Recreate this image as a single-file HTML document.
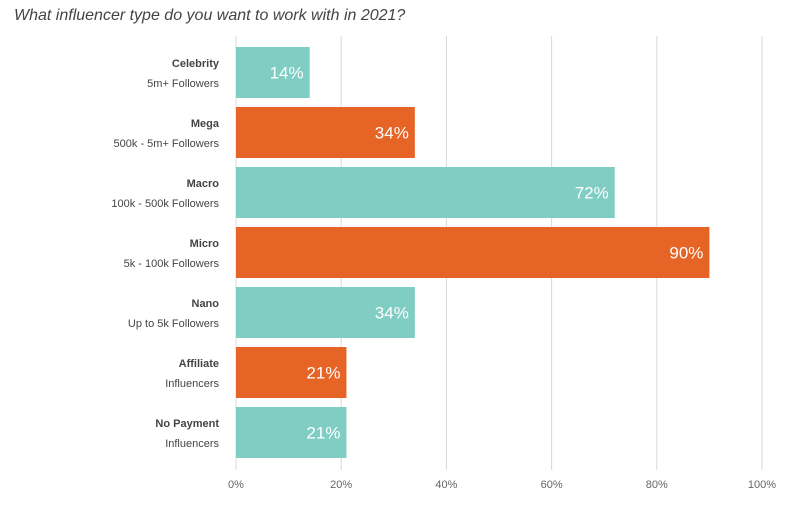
<!DOCTYPE html>
<html><head><meta charset="utf-8"><style>
body{margin:0;background:#fff;width:800px;height:501px;overflow:hidden;font-family:"Liberation Sans",sans-serif}
</style></head><body>
<svg id="chart" width="800" height="501" xmlns="http://www.w3.org/2000/svg">
<text x="14" y="20" font-size="16" font-style="italic" fill="#444">What influencer type do you want to work with in 2021?</text>
<g id="grid"></g><g id="bars"></g><g id="labels"></g><g id="ticks"></g>
</svg>
<script>
const categories=["Celebrity","Mega","Macro","Micro","Nano","Affiliate","No Payment"];
const subLabels=["5m+ Followers","500k - 5m+ Followers","100k - 500k Followers","5k - 100k Followers","Up to 5k Followers","Influencers","Influencers"];
const values=[14,34,72,90,34,21,21];
const tickValues=[0,20,40,60,80,100];
const tickLabels=["0%","20%","40%","60%","80%","100%"];
const NS="http://www.w3.org/2000/svg";
const x0=236,x1=762,yTop=47,step=60,bh=51;
const xs=v=>x0+(x1-x0)*v/100;
const ys=i=>yTop+i*step;
function mk(tag,attrs,parent,txt){const e=document.createElementNS(NS,tag);for(const k in attrs)e.setAttribute(k,attrs[k]);if(txt!==undefined)e.textContent=txt;document.getElementById(parent).appendChild(e);return e;}
tickValues.forEach((t,i)=>{
 const l=mk('line',{x1:xs(t),x2:xs(t),y1:36,y2:470,stroke:'#d8d8d8','stroke-width':1},'grid');
 
 
 const tx=mk('text',{x:xs(t),y:488,'text-anchor':'middle','font-size':11,fill:'#666'},'ticks',tickLabels[i]);
 
 
});
values.forEach((v,i)=>{
 const col=i%2===0?'#7fcdc3':'#e66425';
 const r=mk('rect',{x:x0,y:ys(i),width:xs(v)-x0,height:bh,fill:col},'bars');
 
 
 const vt=mk('text',{x:xs(v)-6,y:ys(i)+bh/2+6,'text-anchor':'end','font-size':17,fill:'#fff'},'bars',v+'%');
 
 
 const c=mk('text',{x:219,y:ys(i)+20,'text-anchor':'end','font-size':11,'font-weight':'bold',fill:'#444'},'labels',categories[i]);
 
 
 const s=mk('text',{x:219,y:ys(i)+40,'text-anchor':'end','font-size':11,fill:'#444'},'labels',subLabels[i]);
 
 
});
</script>
</body></html>
